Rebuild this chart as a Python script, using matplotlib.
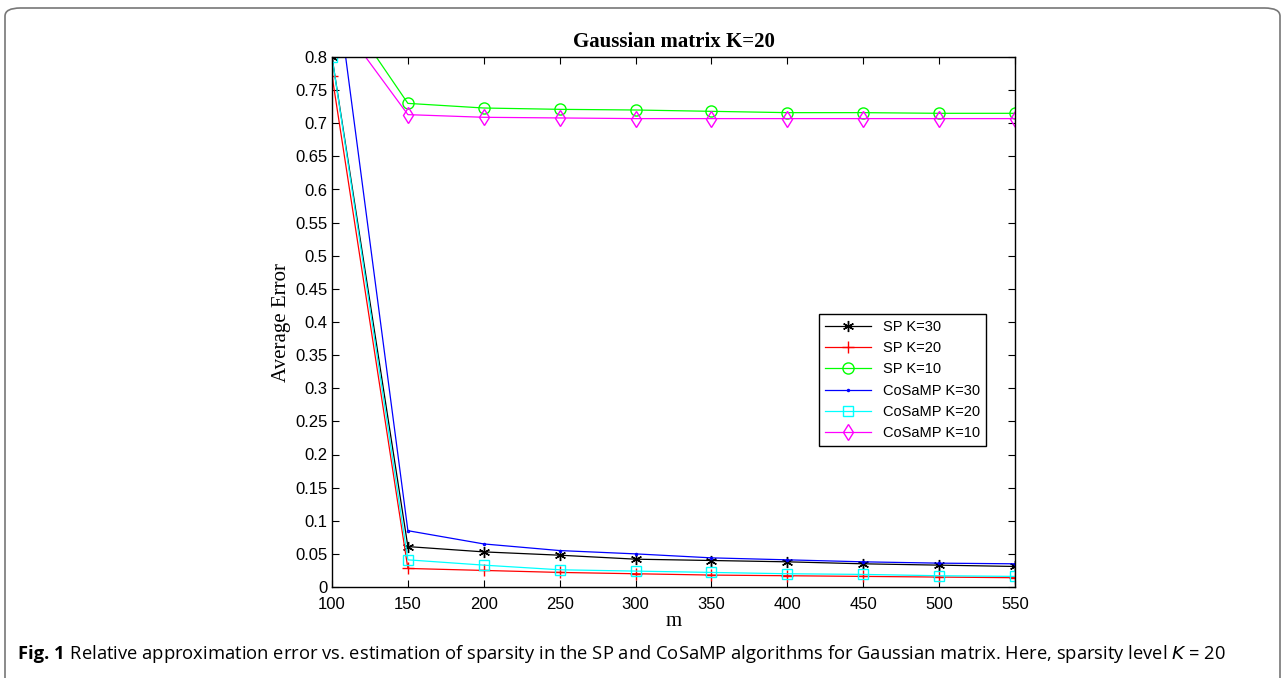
import numpy as np
import matplotlib
matplotlib.use("Agg")
import matplotlib.pyplot as plt
from matplotlib.patches import FancyBboxPatch
from matplotlib.ticker import FuncFormatter

# ------------ DATA ------------
m = [100, 150, 200, 250, 300, 350, 400, 450, 500, 550]

sp_k30 = [0.800, 0.061, 0.053, 0.048, 0.042, 0.040, 0.038, 0.035, 0.033, 0.031]
sp_k20 = [0.772, 0.028, 0.025, 0.022, 0.020, 0.018, 0.017, 0.016, 0.015, 0.014]
sp_k10 = [0.898, 0.730, 0.723, 0.721, 0.720, 0.718, 0.716, 0.716, 0.715, 0.715]
cosamp_k30 = [0.957, 0.085, 0.065, 0.055, 0.050, 0.044, 0.041, 0.038, 0.036, 0.035]
cosamp_k20 = [0.800, 0.041, 0.033, 0.026, 0.024, 0.022, 0.020, 0.019, 0.017, 0.016]
cosamp_k10 = [0.869, 0.713, 0.709, 0.708, 0.707, 0.707, 0.707, 0.707, 0.707, 0.707]

labels = ["SP K=30", "SP K=20", "SP K=10", "CoSaMP K=30", "CoSaMP K=20", "CoSaMP K=10"]

title = "Gaussian matrix K=20"
caption_bold = "Fig. 1"
caption_rest = (" Relative approximation error vs. estimation of sparsity in the SP and CoSaMP "
                "algorithms for Gaussian matrix. Here, sparsity level $K$ = 20")

# ------------ PLOT ------------
fig = plt.figure(figsize=(12.88, 6.78), dpi=100)

# rounded outer frame
frame = FancyBboxPatch((5 / 1288, -0.05), 1275 / 1288, (678 - 8) / 678 + 0.05,
                       boxstyle="round,pad=0,rounding_size=0.012",
                       transform=fig.transFigure, fill=False,
                       edgecolor="#777777", linewidth=1.2, clip_on=False)
fig.patches.append(frame)

ax = fig.add_axes([332 / 1288, 1 - 587 / 678, 683 / 1288, 530 / 678])

series = [sp_k30, sp_k20, sp_k10, cosamp_k30, cosamp_k20, cosamp_k10]
colors = ["black", "red", "#00ff00", "blue", "cyan", "magenta"]
markers = [(6, 2, 0), "+", "o", ".", "s", "d"]
sizes = [8, 9, 8, 3, 7, 8]

for y, c, mk, ms, lab in zip(series, colors, markers, sizes, labels):
    ax.plot(m, y, color=c, marker=mk, markersize=ms, markerfacecolor="none",
            markeredgecolor=c, linewidth=0.9, label=lab)

ax.set_xlim(100, 550)
ax.set_ylim(0, 0.8)
ax.set_xticks(m)
ax.set_yticks(np.arange(0, 0.8001, 0.05))
ax.yaxis.set_major_formatter(FuncFormatter(lambda v, p: f"{v:g}"))
ax.tick_params(direction="in", top=True, right=True, length=5, labelsize=12)
ax.tick_params(axis="x", pad=7)
ax.tick_params(axis="y", pad=3)
for lab in ax.get_xticklabels() + ax.get_yticklabels():
    lab.set_family("Liberation Sans")
for s in ax.spines.values():
    s.set_linewidth(1.0)

ax.set_title(title, fontfamily="Liberation Serif", fontweight="bold", fontsize=15, pad=7)
ax.set_xlabel("m", fontfamily="Liberation Serif", fontsize=15, labelpad=0)
ax.set_ylabel("Average Error", fontfamily="Liberation Serif", fontsize=15, labelpad=3)

leg = ax.legend(loc="upper left", bbox_to_anchor=((819 - 332) / 683, 1 - (314 - 57) / 530),
                fancybox=False, edgecolor="black", framealpha=1,
                prop={"family": "Liberation Sans", "size": 10.5},
                handlelength=3.2, borderaxespad=0, labelspacing=0.5)
leg.get_frame().set_linewidth(1.0)

# caption
t1 = fig.text(18 / 1288, 1 - 654 / 678, caption_bold, fontfamily="Open Sans",
              fontweight="bold", fontsize=13.2, va="center")
fig.canvas.draw()
bb = t1.get_window_extent()
x2 = bb.x1 / fig.bbox.width
fig.text(x2, 1 - 654 / 678, caption_rest, fontfamily="Open Sans",
         fontsize=13.2, va="center")

fig.savefig("out.png", dpi=100)
